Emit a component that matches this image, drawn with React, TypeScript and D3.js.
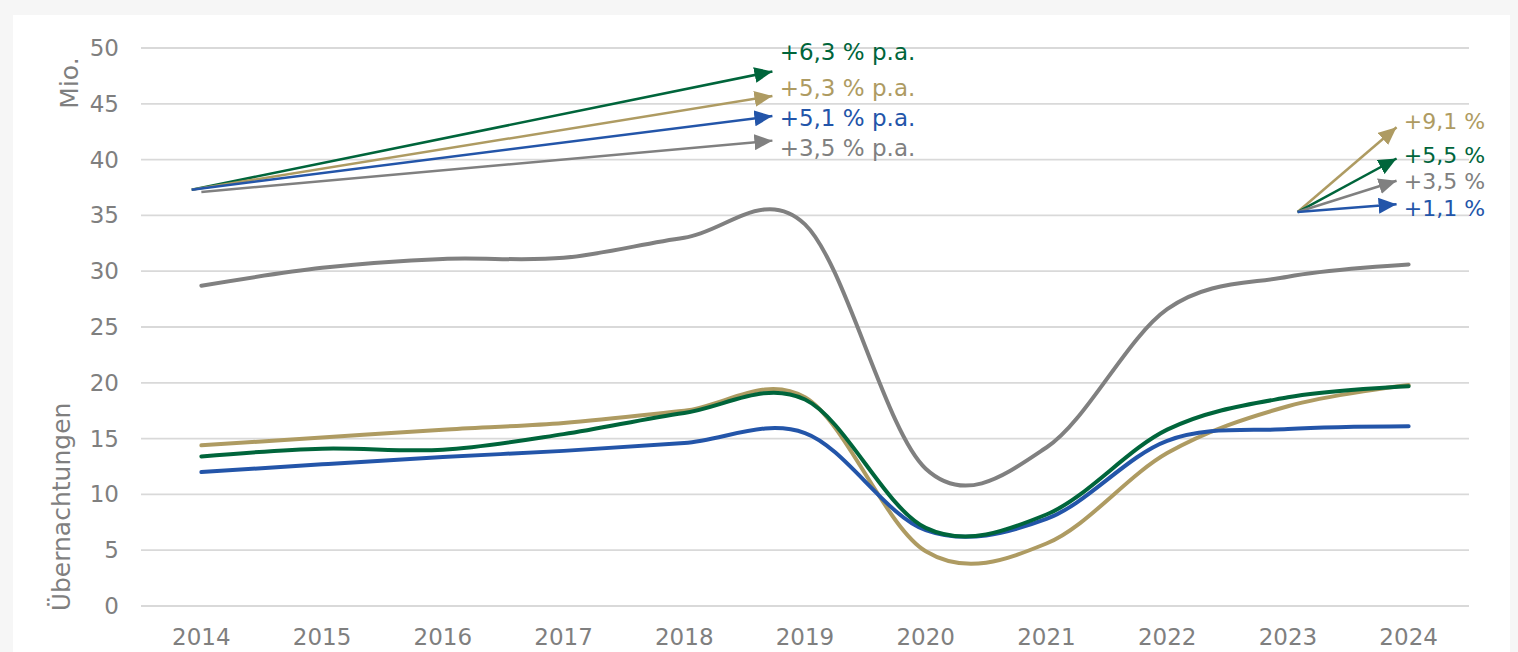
import React from 'react';
import * as d3 from 'd3';

const years = [2014, 2015, 2016, 2017, 2018, 2019, 2020, 2021, 2022, 2023, 2024];
const grayValues = [28.7, 30.3, 31.1, 31.2, 33.0, 34.2, 12.3, 14.2, 26.6, 29.5, 30.6];
const goldValues = [14.4, 15.1, 15.8, 16.4, 17.5, 18.7, 4.9, 5.6, 13.7, 17.9, 19.8];
const blueValues = [12.0, 12.7, 13.35, 13.9, 14.6, 15.5, 6.8, 7.8, 14.8, 15.85, 16.1];
const greenValues = [13.4, 14.1, 14.0, 15.4, 17.3, 18.5, 7.0, 8.2, 15.8, 18.7, 19.7];
const yTicks = [0, 5, 10, 15, 20, 25, 30, 35, 40, 45, 50];

// growth arrows, in data units (year, Mio.)
const longLabels = ['+6,3 % p.a.', '+5,3 % p.a.', '+5,1 % p.a.', '+3,5 % p.a.'];
const longStart = [37.3, 37.3, 37.3, 37.1];
const longEnd = [47.9, 45.7, 43.9, 41.7];
const longLabelY = [49.6, 46.4, 43.7, 41.0];
const shortLabels = ['+9,1 %', '+5,5 %', '+3,5 %', '+1,1 %'];
const shortEnd = [42.9, 40.1, 38.1, 36.0];
const shortLabelY = [43.4, 40.4, 38.0, 35.6];

const GRAY = '#808080';
const GOLD = '#ae9b62';
const BLUE = '#2355a9';
const GREEN = '#00653b';

const W = 1518;
const H = 652;
const FONT = '"DejaVu Sans", sans-serif';

export default function App() {
  const x = d3.scalePoint<number>().domain(years).range([141, 1469]).padding(0.5);
  const xl = d3.scaleLinear().domain([2014, 2024]).range([x(2014)!, x(2024)!]);
  const y = d3.scaleLinear().domain([0, 50]).range([606, 48]);

  const line = d3
    .line<number>()
    .x((_, i) => x(years[i])!)
    .y((d) => y(d))
    .curve(d3.curveCardinal.tension(0));

  const series = [
    { values: grayValues, color: GRAY },
    { values: goldValues, color: GOLD },
    { values: blueValues, color: BLUE },
    { values: greenValues, color: GREEN },
  ];

  const longColors = [GREEN, GOLD, BLUE, GRAY];
  const shortColors = [GOLD, GREEN, GRAY, BLUE];
  const allColors = { gray: GRAY, gold: GOLD, blue: BLUE, green: GREEN };
  const keyOf = (c: string) => Object.keys(allColors).find((k) => (allColors as any)[k] === c);

  return (
    <svg
      width={W}
      height={H}
      style={{ position: 'absolute', left: 0, top: 0, display: 'block' }}
      fontFamily={FONT}
    >
      <defs>
        {Object.entries(allColors).map(([k, c]) => (
          <marker
            key={k}
            id={'arr-' + k}
            markerUnits="userSpaceOnUse"
            markerWidth={20}
            markerHeight={16}
            refX={18}
            refY={8}
            orient="auto"
          >
            <path d="M0,0 L18,8 L0,16 Z" fill={c} />
          </marker>
        ))}
      </defs>
      <rect x={0} y={0} width={W} height={H} fill="#f6f6f6" />
      <rect x={13} y={15} width={1497} height={H - 15} fill="#ffffff" />

      {yTicks.map((t) => (
        <g key={t}>
          <line x1={141} x2={1469} y1={y(t)} y2={y(t)} stroke="#d9d9d9" strokeWidth={1.8} />
          <text x={119} y={y(t)} textAnchor="end" dominantBaseline="central" fontSize={23} fill="#7f7f7f">
            {t}
          </text>
        </g>
      ))}

      {years.map((yr) => (
        <text key={yr} x={x(yr)} y={637} textAnchor="middle" dominantBaseline="central" fontSize={23} fill="#7f7f7f">
          {yr}
        </text>
      ))}

      <text
        transform="translate(69,83) rotate(-90)"
        textAnchor="middle"
        dominantBaseline="central"
        fontSize={25}
        fill="#7f7f7f"
      >
        Mio.
      </text>
      <text
        transform="translate(61,507) rotate(-90)"
        textAnchor="middle"
        dominantBaseline="central"
        fontSize={25}
        fill="#7f7f7f"
      >
        Übernachtungen
      </text>

      {series.map((s, i) => (
        <path key={i} d={line(s.values) || ''} fill="none" stroke={s.color} strokeWidth={4} strokeLinecap="round" />
      ))}

      {longLabels.map((lab, i) => (
        <g key={lab}>
          <line
            x1={xl(i === 3 ? 2014.0 : 2013.92)}
            y1={y(longStart[i])}
            x2={xl(2018.73)}
            y2={y(longEnd[i])}
            stroke={longColors[i]}
            strokeWidth={2.5}
            markerEnd={`url(#arr-${keyOf(longColors[i])})`}
          />
          <text x={xl(2018.79)} y={y(longLabelY[i])} dominantBaseline="central" fontSize={23} fill={longColors[i]}>
            {lab}
          </text>
        </g>
      ))}

      {shortLabels.map((lab, i) => (
        <g key={lab}>
          <line
            x1={xl(2023.08)}
            y1={y(35.3)}
            x2={xl(2023.9)}
            y2={y(shortEnd[i])}
            stroke={shortColors[i]}
            strokeWidth={2.5}
            markerEnd={`url(#arr-${keyOf(shortColors[i])})`}
          />
          <text x={xl(2023.96)} y={y(shortLabelY[i])} dominantBaseline="central" fontSize={22} fill={shortColors[i]}>
            {lab}
          </text>
        </g>
      ))}
    </svg>
  );
}
